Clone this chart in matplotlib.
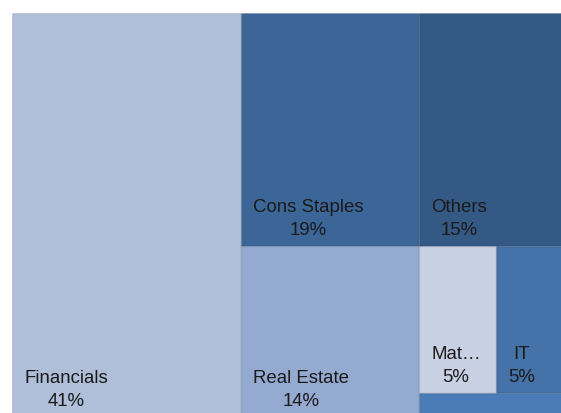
import matplotlib
matplotlib.use("Agg")
import matplotlib.pyplot as plt
from matplotlib.patches import Rectangle

# ---- data ----
sectors = ["Financials", "Cons Staples", "Others", "Real Estate", "Mat\u2026", "IT", ""]
weights = [41.0, 18.3, 15.6, 13.5, 5.05, 4.85, 1.6]
pct_labels = ["41%", "19%", "15%", "14%", "5%", "5%", ""]
colors = ["#afbfd9", "#3d6698", "#355985", "#94aad0", "#c8d1e4", "#4572a8", "#4a7cb8"]

W, H = 558.5, 404.0  # layout space (axes units)


def worst(row, length):
    s = sum(row)
    side = s / length
    r = []
    for a in row:
        o = a / side
        r.append(max(side / o, o / side))
    return max(r)


def squarify(areas, x, y, w, h):
    rects = []
    areas = list(areas)
    while areas:
        length = min(w, h)
        row = [areas[0]]
        i = 1
        while i < len(areas):
            if worst(row + [areas[i]], length) <= worst(row, length):
                row.append(areas[i])
                i += 1
            else:
                break
        areas = areas[i:]
        s = sum(row)
        if w >= h:  # column on the left
            cw = s / h
            yy = y
            for a in row:
                rh = a / cw
                rects.append((x, yy, cw, rh))
                yy += rh
            x += cw
            w -= cw
        else:  # row on top
            rh = s / w
            xx = x
            for a in row:
                rw = a / rh
                rects.append((xx, y, rw, rh))
                xx += rw
            y += rh
            h -= rh
    return rects


total = sum(weights)
areas = [v / total * W * H for v in weights]
rects = squarify(areas, 0, 0, W, H)

fig = plt.figure(figsize=(5.61, 4.14), dpi=100)
ax = fig.add_axes([12 / 561, -4 / 414, W / 561, H / 414])
ax.set_xlim(0, W)
ax.set_ylim(H, 0)
ax.axis("off")

for (x, y, w, h), c, name, pct in zip(rects, colors, sectors, pct_labels):
    ax.add_patch(Rectangle((x, y), w, h, facecolor=c, edgecolor=(0, 0, 0, 0.10), lw=1.0))
    if name:
        ax.annotate(f"{name}\n{pct}", xy=(x, y + h), xycoords="data",
                    xytext=(12, 8), textcoords="offset pixels",
                    ha="left", va="bottom", multialignment="center",
                    fontsize=13.4, family="Liberation Sans", color="#1a1a1a",
                    linespacing=1.45, annotation_clip=False)

fig.savefig("out.png", dpi=100)
